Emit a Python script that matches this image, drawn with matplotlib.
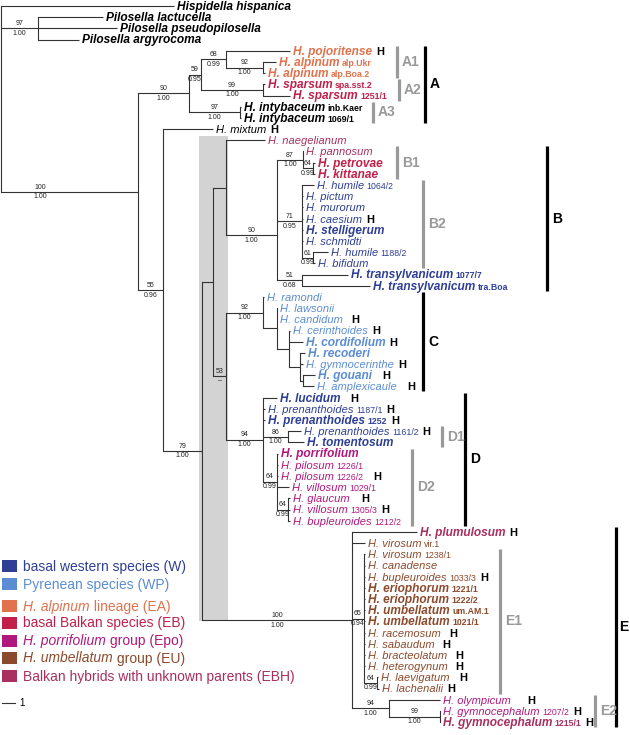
import matplotlib
matplotlib.use("Agg")
import matplotlib.pyplot as plt
from matplotlib.patches import Rectangle

plt.rcParams['font.family'] = ['Liberation Sans', 'DejaVu Sans']

# tips, top to bottom
TIP_NAME = [
    'Hispidella hispanica', 'Pilosella lactucella', 'Pilosella pseudopilosella', 'Pilosella argyrocoma',
    'H. pojoritense', 'H. alpinum', 'H. alpinum', 'H. sparsum', 'H. sparsum',
    'H. intybaceum', 'H. intybaceum', 'H. mixtum', 'H. naegelianum', 'H. pannosum',
    'H. petrovae', 'H. kittanae', 'H. humile', 'H. pictum', 'H. murorum', 'H. caesium',
    'H. stelligerum', 'H. schmidti', 'H. humile', 'H. bifidum', 'H. transylvanicum',
    'H. transylvanicum', 'H. ramondi', 'H. lawsonii', 'H. candidum', 'H. cerinthoides',
    'H. cordifolium', 'H. recoderi', 'H. gymnocerinthe', 'H. gouani', 'H. amplexicaule',
    'H. lucidum', 'H. prenanthoides', 'H. prenanthoides', 'H. prenanthoides', 'H. tomentosum',
    'H. porrifolium', 'H. pilosum', 'H. pilosum', 'H. villosum', 'H. glaucum', 'H. villosum',
    'H. bupleuroides', 'H. plumulosum', 'H. virosum', 'H. virosum', 'H. canadense',
    'H. bupleuroides', 'H. eriophorum', 'H. eriophorum', 'H. umbellatum', 'H. umbellatum',
    'H. racemosum', 'H. sabaudum', 'H. bracteolatum', 'H. heterogynum', 'H. laevigatum',
    'H. lachenalii', 'H. olympicum', 'H. gymnocephalum', 'H. gymnocephalum',
]
TIP_CODE = [
    '', '', '', '', '', 'alp.Ukr', 'alp.Boa.2', 'spa.sst.2', '1251/1', 'inb.Kaer', '1069/1',
    '', '', '', '', '', '1064/2', '', '', '', '', '', '1188/2', '', '1077/7', 'tra.Boa',
    '', '', '', '', '', '', '', '', '', '', '1187/1', '1252', '1161/2', '',
    '', '1226/1', '1226/2', '1029/1', '', '1305/3', '1212/2', '', 'vir.1', '1238/1', '',
    '1033/3', '1221/1', '1222/2', 'um.AM.1', '1021/1', '', '', '', '', '', '', '', '1207/2', '1215/1',
]
TIP_GROUP = [
    'K', 'K', 'K', 'K', 'EA', 'EA', 'EA', 'EB', 'EB', 'K', 'K', 'K', 'EBH', 'EBH',
    'EB', 'EB', 'W', 'W', 'W', 'W', 'W', 'W', 'W', 'W', 'W', 'W',
    'WP', 'WP', 'WP', 'WP', 'WP', 'WP', 'WP', 'WP', 'WP',
    'W', 'W', 'W', 'W', 'W', 'Epo', 'Epo', 'Epo', 'Epo', 'Epo', 'Epo', 'Epo',
    'EBH', 'EU', 'EU', 'EU', 'EU', 'EU', 'EU', 'EU', 'EU', 'EU', 'EU', 'EU', 'EU', 'EU', 'EU',
    'Epo', 'Epo', 'EBH',
]
TIP_BOLD = [
    1, 1, 1, 1, 1, 1, 1, 1, 1, 1, 1, 0, 0, 0, 1, 1, 0, 0, 0, 0, 1, 0, 0, 0, 1, 1,
    0, 0, 0, 0, 1, 1, 0, 1, 0, 1, 0, 1, 0, 1, 1, 0, 0, 0, 0, 0, 0,
    1, 0, 0, 0, 0, 1, 1, 1, 1, 0, 0, 0, 0, 0, 0, 0, 0, 1,
]
TIP_H = [
    0, 0, 0, 0, 1, 0, 0, 0, 0, 0, 0, 1, 0, 0, 0, 0, 0, 0, 0, 1, 0, 0, 0, 0, 0, 0,
    0, 0, 1, 1, 1, 0, 1, 1, 1, 1, 1, 1, 1, 0, 0, 0, 1, 0, 1, 1, 0,
    1, 0, 0, 0, 1, 0, 0, 0, 0, 1, 1, 1, 1, 1, 1, 1, 1, 1,
]
# x where each terminal branch ends
TIP_DEPTH = [
    174, 103, 117, 79, 290, 276, 265, 265, 290, 241, 241, 213, 265, 303,
    315, 315, 314, 303, 303, 303, 303, 303, 328, 315, 348, 370,
    264, 277, 277, 290, 303, 305, 303, 315, 314,
    277, 265, 265, 301, 304, 278, 278, 278, 289, 290, 290, 290,
    417, 365, 365, 365, 365, 365, 365, 365, 365, 365, 365, 365, 365, 378, 379,
    440, 440, 440,
]

# internal nodes: id, depth, children, bootstrap, posterior
NODES = [
    ('root', 1, [0, 'pil', 'ing'], '', ''),
    ('pil', 38, [1, 2, 3], '97', '1.00'),
    ('ing', 138, ['A', 'n55'], '100', '1.00'),
    ('A', 189, ['n59', 'inty'], '90', '1.00'),
    ('n59', 201, ['n68', 'spar'], '59', '0.95'),
    ('n68', 226, [4, 'alp'], '68', '0.99'),
    ('alp', 263, [5, 6], '92', '1.00'),
    ('spar', 263, [7, 8], '99', '1.00'),
    ('inty', 240, [9, 10], '97', '1.00'),
    ('n55', 163, [11, 'n79'], '55', '0.96'),
    ('n79', 202, ['nX', 'E'], '79', '1.00'),
    ('nX', 213, ['nB0', 'n53'], '', ''),
    ('nB0', 226, [12, 'B'], '', ''),
    ('B', 277, ['B1', 'B2', 'n51'], '90', '1.00'),
    ('B1', 303, [13, 'pk'], '87', '1.00'),
    ('pk', 313, [14, 15], '64', '0.99'),
    ('B2', 302, [16, 17, 18, 19, 20, 21, 'n61'], '71', '0.95'),
    ('n61', 313, [22, 23], '61', '0.99'),
    ('n51', 302, [24, 25], '51', '0.68'),
    ('n53', 226, ['C', 'D'], '53', '\u2013'),
    ('C', 263, [26, 'C2'], '92', '1.00'),
    ('C2', 277, [27, 28, 'C3'], '', ''),
    ('C3', 289, [29, 30, 'C4'], '', ''),
    ('C4', 300, [31, 32, 'C5'], '', ''),
    ('C5', 303, [33, 34], '', ''),
    ('D', 263, [35, 36, 37, 'D1', 'D2'], '94', '1.00'),
    ('D1', 288, [38, 39], '86', '1.00'),
    ('D2', 277, [40, 41, 42, 43, 'D2b'], '64', '0.99'),
    ('D2b', 288, [44, 45, 46], '64', '0.99'),
    ('E', 352, [47, 48, 'E1', 'E2'], '100', '1.00'),
    ('E1', 364, [49, 50, 51, 52, 53, 54, 55, 56, 57, 58, 59, 'n64'], '65', '0.94'),
    ('n64', 377, [60, 61], '64', '0.99'),
    ('E2', 389, [62, 'gym'], '94', '1.00'),
    ('gym', 440, [63, 64], '99', '1.00'),
]

# clade bars: label, first tip, last tip, major?
CLADES = [
    ('A1', 4, 6, 0), ('A2', 7, 8, 0), ('A3', 9, 10, 0), ('A', 4, 10, 1),
    ('B1', 13, 15, 0), ('B2', 16, 23, 0), ('B', 13, 25, 1),
    ('C', 26, 34, 1),
    ('D1', 38, 39, 0), ('D2', 40, 46, 0), ('D', 35, 46, 1),
    ('E1', 49, 61, 0), ('E2', 62, 64, 0), ('E', 47, 64, 1),
]
CLADE_X = [397, 399, 373, 425, 397, 423, 547, 423, 442, 412, 465, 500, 595, 616]

COLORS = {
    'K': 'black', 'W': '#2e3f95', 'WP': '#5b8dd3', 'EA': '#e0724d',
    'EB': '#c1204a', 'Epo': '#b0187e', 'EU': '#8c4a2c', 'EBH': '#a82f5e',
}
LEGEND_KEYS = ['W', 'WP', 'EA', 'EB', 'Epo', 'EU', 'EBH']
LEGEND_ITALIC = ['', '', 'H. alpinum', '', 'H. porrifolium', 'H. umbellatum', '']
LEGEND_TEXT = ['basal western species (W)', 'Pyrenean species (WP)', ' lineage (EA)',
               'basal Balkan species (EB)', ' group (Epo)', ' group (EU)',
               'Balkan hybrids with unknown parents (EBH)']
LEGEND_Y = [566, 584, 606, 623, 641, 658, 676]

# layout tweaks
Y_OVERRIDE = {'B': 235}
SUPPORT_X = {'ing': 40}
H_GAP = {28: 4, 33: 6, 34: 6, 35: 6, 42: 6, 44: 8, 56: 5, 57: 4, 58: 4, 59: 4, 60: 6, 62: 13}
LINE = '#333333'
LW = 0.8

fig = plt.figure(figsize=(6.3, 7.35), dpi=100)
ax = fig.add_axes([0, 0, 1, 1])
ax.set_xlim(0, 630)
ax.set_ylim(735, 0)
ax.axis('off')
r = fig.canvas.get_renderer()
inv = ax.transData.inverted()

tip_y = [6 + i * 11.19 for i in range(len(TIP_NAME))]
nodes = {n[0]: n for n in NODES}
pos = {i: (TIP_DEPTH[i], tip_y[i]) for i in range(len(TIP_NAME))}


def place(nid):
    ys = []
    for k in nodes[nid][2]:
        if isinstance(k, str):
            place(k)
        ys.append(pos[k][1])
    pos[nid] = (nodes[nid][1], Y_OVERRIDE.get(nid, (ys[0] + ys[-1]) / 2))


place('root')

# shaded box behind the backbone
ax.add_patch(Rectangle((199, 136), 29, 485, color='#d3d3d3', lw=0, zorder=0))


def draw(nid, px=None):
    x, y = pos[nid]
    if px is not None and x > px:
        ax.plot([px, x], [y, y], color=LINE, lw=LW, solid_capstyle='butt')
    if not isinstance(nid, str):
        return
    kids = nodes[nid][2]
    ax.plot([x, x], [pos[kids[0]][1], pos[kids[-1]][1]], color=LINE, lw=LW,
            solid_capstyle='projecting')
    bs, pp = nodes[nid][3], nodes[nid][4]
    if bs:
        lx = SUPPORT_X.get(nid, (px + x) / 2)
        ax.text(lx, y - 1.2, bs, fontsize=5, ha='center', va='bottom', color='#222222')
        ax.text(lx, y + 1.5, pp, fontsize=5, ha='center', va='top', color='#222222')
    for k in kids:
        draw(k, x)


draw('root')


def chain(x, y, parts):
    for s, kw in parts:
        t = ax.text(x, y, s, va='baseline', ha='left', **kw)
        bb = t.get_window_extent(renderer=r)
        x = inv.transform((bb.x1, bb.y0))[0]
    return x


for i, name in enumerate(TIP_NAME):
    col = COLORS[TIP_GROUP[i]]
    bold = TIP_BOLD[i]
    w = 'bold' if bold else 'normal'
    parts = [(name, dict(fontsize=8.6 if bold else 8, fontstyle='italic', fontweight=w, color=col))]
    x = chain(TIP_DEPTH[i] + 3, tip_y[i] + 3.9, parts)
    if TIP_CODE[i]:
        x = chain(x + 2.5, tip_y[i] + 3.9, [(TIP_CODE[i], dict(fontsize=6.3, fontweight=w, color=col))])
    if TIP_H[i]:
        chain(x + 4 + H_GAP.get(i, 0), tip_y[i] + 3.9,
              [('H', dict(fontsize=8, fontweight='bold', color='black'))])

for (lab, a, b, major), bx in zip(CLADES, CLADE_X):
    y0, y1 = tip_y[a] - 5, tip_y[b] + 5
    col = 'black' if major else '#999999'
    ax.plot([bx, bx], [y0, y1], color=col, lw=2.3, solid_capstyle='butt')
    ax.text(bx + (3.5 if lab == 'E' else 5), (y0 + y1) / 2, lab, fontsize=10,
            fontweight='bold', color=col, ha='left', va='center')

# legend
for key, it, txt, ly in zip(LEGEND_KEYS, LEGEND_ITALIC, LEGEND_TEXT, LEGEND_Y):
    ax.add_patch(Rectangle((2, ly - 6), 15, 12, color=COLORS[key], lw=0))
    parts = []
    if it:
        parts.append((it, dict(fontsize=10, fontstyle='italic', color=COLORS[key])))
    parts.append((txt, dict(fontsize=10, color=COLORS[key])))
    chain(23, ly + 4.5, parts)

# scale bar
ax.plot([2, 15], [703, 703], color=LINE, lw=LW)
ax.text(19, 703, '1', fontsize=7, va='center', ha='left')

fig.savefig('out.png', dpi=100)
